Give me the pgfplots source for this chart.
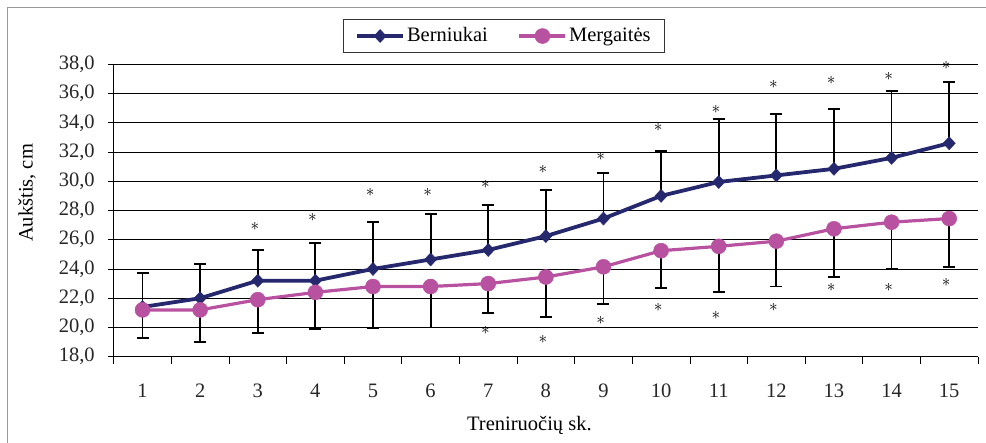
\documentclass[border=0pt]{standalone}
\usepackage{pgfplots}
\pgfplotsset{compat=1.18}
\usepackage{fontspec}
\setmainfont{Liberation Serif}
\definecolor{boys}{RGB}{38,40,110}
\definecolor{girls}{RGB}{184,82,160}
\begin{document}
\fontsize{20.5}{24}\selectfont
\begin{tikzpicture}[x=1pt,y=1pt]
\useasboundingbox (0,0) rectangle (986,443);
\draw[gray!80,line width=1.5pt] (7.3,-10) rectangle (1000,435.7);
\begin{axis}[
  at={(113.7pt,86.3pt)}, anchor=south west,
  scale only axis, width=864.3pt, height=292.4pt,
  xmin=0.5, xmax=15.5, ymin=18, ymax=38,
  axis x line*=bottom, axis y line*=left,
  axis line style={black, line width=0.8pt},
  xtick={1,...,15},
  major x tick style={draw=none},
  minor xtick={0.5,1.5,...,15.5},
  minor tick length=7pt,
  minor x tick style={black, line width=0.8pt},
  ytick={18,20,...,38},
  major tick length=6pt,
  tick align=outside,
  y tick style={black, line width=0.8pt},
  ymajorgrids,
  grid style={black, line width=0.8pt},
  /pgf/number format/assume math mode=true,
  yticklabel style={/pgf/number format/.cd, fixed, fixed zerofill, precision=1, use comma, /tikz/.cd, xshift=-6pt},
  xticklabel style={yshift=-14pt},
  ticklabel style={font=\fontsize{20.5}{24}\selectfont, text=black!85},
  xlabel={Treniruočių sk.},
  xlabel style={at={(rel axis cs:0.481,-0.234)}, anchor=center, font=\fontsize{20.5}{24}\selectfont},
  ylabel={Aukštis, cm},
  ylabel style={at={(rel axis cs:-0.1003,0.56)}, anchor=center, font=\fontsize{20.5}{24}\selectfont},
  legend columns=2,
  legend style={at={(rel axis cs:0.4515,1.155)}, anchor=north, draw=black!80, line width=0.8pt,
     font=\fontsize{20.5}{24}\selectfont, inner xsep=12pt, inner ysep=6pt,
     /tikz/every even column/.append style={column sep=28pt}},
  legend image code/.code={\draw[#1] (0pt,0pt) -- (46pt,0pt); \draw[#1, mark repeat=1] plot coordinates {(23pt,0pt)};},
  clip=false,
]
\addplot[boys, line width=3.8pt, mark=diamond*, mark size=6.5pt, mark options={solid, line width=0.5pt, xscale=1.25},
  error bars/.cd, y dir=plus, y explicit,
  error bar style={black, line width=1.8pt}, error mark options={rotate=90, mark size=6pt, black, line width=1.8pt}]
coordinates {
(1,21.4) +- (0,2.35)
(2,22.0) +- (0,2.35)
(3,23.2) +- (0,2.1)
(4,23.2) +- (0,2.6)
(5,24.0) +- (0,3.2)
(6,24.65) +- (0,3.1)
(7,25.3) +- (0,3.1)
(8,26.25) +- (0,3.15)
(9,27.45) +- (0,3.1)
(10,29.0) +- (0,3.05)
(11,29.95) +- (0,4.3)
(12,30.4) +- (0,4.2)
(13,30.85) +- (0,4.1)
(14,31.6) +- (0,4.6)
(15,32.6) +- (0,4.2)
};
\addlegendentry{Berniukai}
\addplot[girls, line width=3.2pt, mark=*, mark size=7.5pt, mark options={solid, line width=0.5pt},
  error bars/.cd, y dir=minus, y explicit,
  error bar style={black, line width=1.8pt}, error mark options={rotate=90, mark size=6pt, black, line width=1.8pt}]
coordinates {
(1,21.2) +- (0,1.9)
(2,21.2) +- (0,2.2)
(3,21.9) +- (0,2.3)
(4,22.4) +- (0,2.5)
(5,22.8) +- (0,2.85)
(6,22.8) +- (0,2.8)
(7,23.0) +- (0,2.0)
(8,23.45) +- (0,2.75)
(9,24.15) +- (0,2.55)
(10,25.25) +- (0,2.55)
(11,25.55) +- (0,3.1)
(12,25.9) +- (0,3.1)
(13,26.75) +- (0,3.3)
(14,27.2) +- (0,3.2)
(15,27.45) +- (0,3.3)
};
\addlegendentry{Mergaitės}
\addplot[black!70, only marks, mark=text, text mark={\fontsize{18}{20}\selectfont$\ast$}, forget plot]
coordinates {
(2.95,26.9) (3.95,27.5) (4.95,29.2) (5.95,29.2) (6.95,29.75) (7.95,30.8) (8.95,31.7)
(9.95,33.7) (10.95,34.9) (11.95,36.6) (12.95,36.9) (13.95,37.15) (14.95,37.9)
(6.95,19.8) (7.95,19.2) (8.95,20.45) (9.95,21.4) (10.95,20.85) (11.95,21.4)
(12.95,22.75) (13.95,22.75) (14.95,23.05)
};
\end{axis}
\end{tikzpicture}
\end{document}
